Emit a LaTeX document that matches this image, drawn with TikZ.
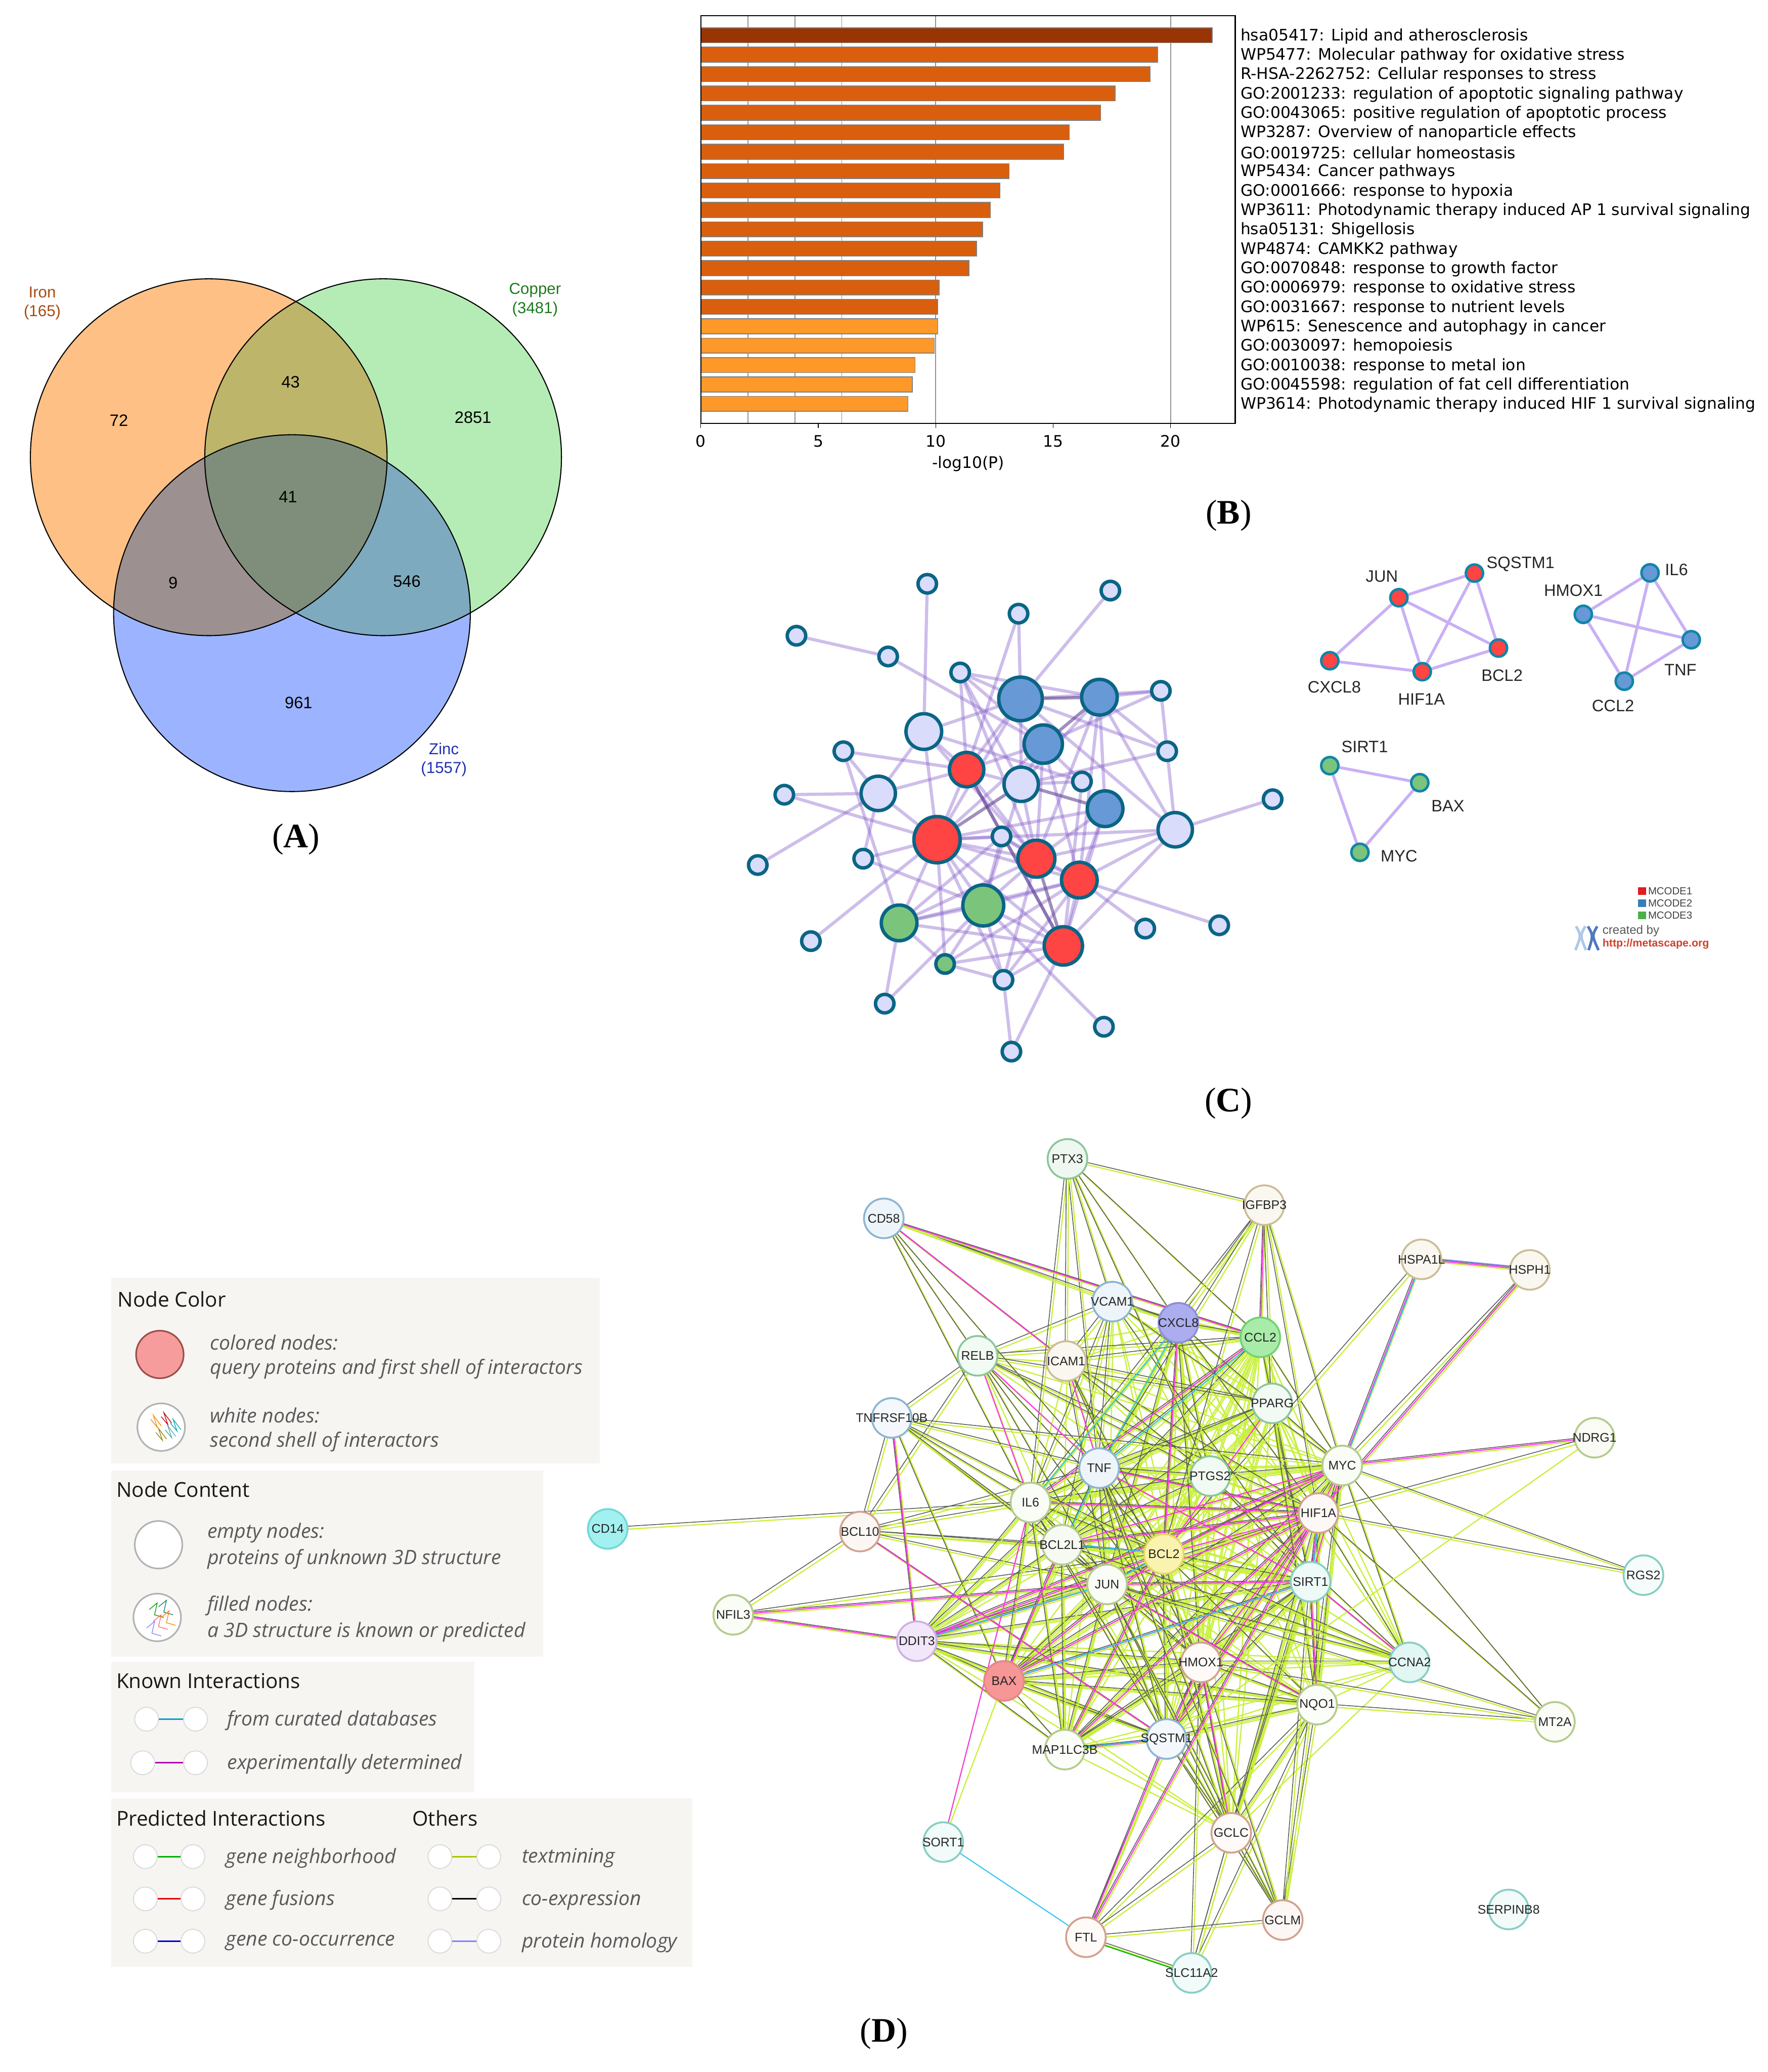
\documentclass[tikz,border=0pt]{standalone}
\usepackage{fontspec}
\setmainfont{Liberation Sans}
\newfontfamily\capfont{Liberation Serif}
\newfontfamily\chartfont{DejaVu Sans}
\newfontfamily\legfont{Open Sans}
\usetikzlibrary{backgrounds}
\newdimen\pxdim
\newcommand{\pxfont}[1]{\pxdim=2.845pt \pxdim=#1\pxdim \fontsize{\pxdim}{1.2\pxdim}\selectfont}
\definecolor{ironfill}{HTML}{FFC085}
\definecolor{copperfill}{HTML}{B5ECB5}
\definecolor{zincfill}{HTML}{9CB4FF}
\definecolor{ironcopper}{HTML}{BDB56A}
\definecolor{ironzinc}{HTML}{9C9090}
\definecolor{copperzinc}{HTML}{7DAABF}
\definecolor{allthree}{HTML}{7F8E7A}
\definecolor{bardark}{HTML}{993404}
\definecolor{barmid}{HTML}{D95F0E}
\definecolor{barlight}{HTML}{FE9929}
\definecolor{cred}{HTML}{FF4444}
\definecolor{cblue}{HTML}{6699D6}
\definecolor{cgreen}{HTML}{7BC47B}
\definecolor{cpale}{HTML}{D9DCFB}
\definecolor{cring}{HTML}{0A6585}
\definecolor{cringb}{HTML}{0F86A8}
\definecolor{cline}{HTML}{8A63CC}
\definecolor{clineb}{HTML}{C9B0F5}
\definecolor{legbox}{HTML}{F6F5F2}
\definecolor{sgreen}{HTML}{8FD3A0}
\definecolor{stan}{HTML}{D8C89A}
\definecolor{sblue}{HTML}{8FBEE0}
\definecolor{steal}{HTML}{8ADCCF}
\definecolor{spurp}{HTML}{D9B8F5}
\definecolor{sbrown}{HTML}{E0A890}
\definecolor{solive}{HTML}{BFD890}
\definecolor{sred}{HTML}{F58A8A}
\definecolor{scyan}{HTML}{70E8E8}
\definecolor{syell}{HTML}{F5E860}
\definecolor{sindigo}{HTML}{8F92EA}
\definecolor{smint}{HTML}{70E070}
\definecolor{tmline}{HTML}{C8F03C}
\definecolor{coline}{HTML}{5A5A5A}
\definecolor{exline}{HTML}{FF33EE}
\definecolor{dbline}{HTML}{33C5F0}
\definecolor{logolight}{HTML}{AFC8E8}
\definecolor{logodark}{HTML}{5078C0}
\definecolor{siteline}{HTML}{D0402C}
\begin{document}
\begin{tikzpicture}[
    x=1mm,
    y=-1mm,
    vennline/.style={black, line width=0.8mm},
    venntxt/.style={font=\pxfont{12.5}, inner sep=0pt},
    panelcap/.style={font=\capfont\pxfont{26}, inner sep=0pt},
    chartbar/.style={draw=gray, line width=0.6mm},
    chartgrid/.style={gray!85, line width=0.7mm},
    charttxt/.style={font=\chartfont\pxfont{12}, inner sep=0pt},
    cedge/.style={draw=cline, draw opacity=0.42, line width=2.4mm},
    cedgeb/.style={draw=cline!70!black, draw opacity=0.6, line width=2.4mm},
    cnode/.style={circle, draw=cring, line width=2.6mm, inner sep=0pt},
    gedge/.style={draw=clineb, line width=2.2mm},
    gnode/.style={circle, draw=cringb, line width=1.9mm, inner sep=0pt, minimum size=13mm},
    gtxt/.style={font=\pxfont{12.5}, inner sep=0pt, text=black!85},
    mcsq/.style={minimum size=6mm, inner sep=0pt},
    mctxt/.style={font=\pxfont{7.8}, inner sep=0pt, anchor=west, text=black!75},
    snode/.style={circle, line width=1.4mm, inner sep=0pt, minimum size=30mm},
    slabel/.style={font=\pxfont{9.5}, inner sep=0pt, text=black!85},
    tmedge/.style={draw=tmline, line width=0.9mm},
    coedge/.style={draw=coline, line width=0.6mm},
    exedge/.style={draw=exline, line width=0.8mm},
    dbedge/.style={draw=dbline, line width=0.8mm},
    legpanel/.style={fill=legbox, draw=none},
    legtitle/.style={font=\legfont\pxfont{15.5}, inner sep=0pt, anchor=west, text=black!90},
    legtxt/.style={font=\legfont\itshape\pxfont{15}, inner sep=0pt, anchor=west, text=black!65},
    legbig/.style={circle, draw=gray!60, fill=white, line width=1.2mm, inner sep=0pt, minimum size=36mm},
    legsmall/.style={circle, draw=gray!30, fill=white, line width=0.7mm, inner sep=0pt, minimum size=18mm},
    leglink/.style={line width=1.1mm}
]

\useasboundingbox (0,0) rectangle (1338,1568);

% =========================================================
% PANEL A
% =========================================================

\def\ironc{(158,346) circle (135)}
\def\copperc{(290,346) circle (135)}
\def\zincc{(221,464) circle (135)}

\fill[ironfill] \ironc;
\fill[copperfill] \copperc;
\fill[zincfill] \zincc;

\begin{scope}
\clip \ironc;
\fill[ironcopper] \copperc;
\fill[ironzinc] \zincc;
\clip \copperc;
\fill[allthree] \zincc;
\end{scope}

\begin{scope}
\clip \copperc;
\clip \zincc;
\fill[copperzinc] (0,0) rectangle (1338,1568);
\clip \ironc;
\fill[allthree] (0,0) rectangle (1338,1568);
\end{scope}

\draw[vennline] \ironc;
\draw[vennline] \copperc;
\draw[vennline] \zincc;

\foreach \nm/\xx/\yy/\txt in {n72/90/318/72, n43/220/289/43, n2851/358/316/2851, n41/218/376/41,
    n9/131/441/9, n546/308/440/546, n961/226/532/961}
    \node[venntxt] (\nm) at (\xx,\yy) {\txt};

\node[font=\pxfont{12}, inner sep=0pt, align=center, text={rgb,255:red,168;green,74;blue,16}] (ironlab) at (32,229.5) {Iron\\(165)};
\node[font=\pxfont{12}, inner sep=0pt, align=center, text={rgb,255:red,30;green,122;blue,30}] (copperlab) at (405,227) {Copper\\(3481)};
\node[font=\pxfont{12}, inner sep=0pt, align=center, text={rgb,255:red,32;green,48;blue,176}] (zinclab) at (336,575) {Zinc\\(1557)};

\node[panelcap] (capA) at (224,635) {(\textbf{A})};

% =========================================================
% PANEL B
% =========================================================

\foreach \t in {2,4,6,10,20}
    \draw[chartgrid] ({530.5+17.78*\t},12) -- ({530.5+17.78*\t},320.4);

\foreach \val/\col/\txt [count=\i from 0] in {
    21.77/bardark/hsa05417: Lipid and atherosclerosis,
    19.44/barmid/WP5477: Molecular pathway for oxidative stress,
    19.12/barmid/R-HSA-2262752: Cellular responses to stress,
    17.64/barmid/GO:2001233: regulation of apoptotic signaling pathway,
    17.02/barmid/GO:0043065: positive regulation of apoptotic process,
    15.69/barmid/WP3287: Overview of nanoparticle effects,
    15.45/barmid/GO:0019725: cellular homeostasis,
    13.13/barmid/WP5434: Cancer pathways,
    12.74/barmid/GO:0001666: response to hypoxia,
    12.33/barmid/WP3611: Photodynamic therapy induced AP 1 survival signaling,
    12.00/barmid/hsa05131: Shigellosis,
    11.74/barmid/WP4874: CAMKK2 pathway,
    11.42/barmid/GO:0070848: response to growth factor,
    10.15/barmid/GO:0006979: response to oxidative stress,
    10.09/barmid/GO:0031667: response to nutrient levels,
    10.09/barlight/WP615: Senescence and autophagy in cancer,
    9.94/barlight/GO:0030097: hemopoiesis,
    9.12/barlight/GO:0010038: response to metal ion,
    9.00/barlight/GO:0045598: regulation of fat cell differentiation,
    8.82/barlight/WP3614: Photodynamic therapy induced HIF 1 survival signaling}
{
    \pgfmathsetmacro\yb{26.7+14.68*\i}
    \draw[chartbar, fill=\col] (530.5,\yb-5.7) rectangle ({530.5+17.78*\val},\yb+5.7);
    \node[charttxt, anchor=west] (path\i) at (939,\yb+0.7) {\txt};
}

\draw[black, line width=0.8mm] (530.5,12) rectangle (935,320.4);

\foreach \t in {0,5,10,15,20} {
    \draw[black, line width=0.5mm] ({530.5+17.78*\t},320.4) -- ++(0,3.5);
    \node[charttxt] (tick\t) at ({530.5+17.78*\t},334) {\t};
}
\node[charttxt] (xlab) at (733,351) {-log10(P)};
\node[panelcap] (capB) at (930,390) {(\textbf{B})};

% =========================================================
% PANEL C
% =========================================================

% foglie
\foreach \nm/\xx/\yy in {a1/701.9/441.8, a2/840.5/446.9, a3/771/464.4, a4/602.9/481.1, a5/672.3/496.8,
    a6/726.8/508.9, a7/878.7/522.8, a8/883.5/568.5, a9/638.4/568.5, a10/819/591.4, a11/593.7/601.4,
    a12/963.3/604.8, a13/758.1/633, a14/653.4/649.8, a15/573.6/654.6, a16/613.8/712.2, a17/866.9/702.7,
    a18/922.9/700.2, a19/759.6/741.5, a20/669.7/759.5, a21/835.6/777, a22/765.6/795.8}
    \node[cnode, fill=cpale, minimum size=14mm] (\nm) at (\xx,\yy) {};

% grandi
\foreach \nm/\xx/\yy/\sz/\col in {b1/772.5/528.9/33/cblue, b2/832.2/527.6/27/cblue, b3/789.7/563.1/29/cblue,
    b4/836.5/612/27/cblue, w1/699.3/553.6/27/cpale, w2/773/593.5/26/cpale, w3/664.8/600.4/26/cpale,
    w4/889.6/627.9/26/cpale, r1/731.7/582.4/26/cred, r2/709.3/635.4/35/cred, r3/784.5/649.8/28/cred,
    r4/817/666/27/cred, r5/804.9/715.8/29/cred, g1/744.3/685.2/31/cgreen, g2/680.6/698.4/27/cgreen,
    g3/715.4/729.5/14/cgreen}
    \node[cnode, fill=\col, minimum size=\sz mm] (\nm) at (\xx,\yy) {};

\begin{pgfonlayer}{background}
\foreach \p/\q in {a1/w1, a2/b1, a3/b1, a3/r1, a4/a5, a5/b3, a6/b1, a6/b2, a6/b3, a6/r1, a6/w2, a6/r3,
    b1/w1, b1/a8, b1/w4, b1/r1, b1/w2, b1/r2, b1/a7, b2/a7, b2/w4, b2/a8, b2/b4, b2/r4, b2/w2, b2/r3,
    b3/a7, b3/w2, b3/r1, b3/a10, b3/r2, b3/r4, b3/r3, w1/r1, w1/r2, w1/r3, w1/w3, w1/a10,
    a9/r1, a9/w3, a9/g2, w3/r1, w3/a11, w3/a15, w3/r2, w3/a14, a11/r2, a7/a8, a8/w4, a8/w2,
    w4/a12, w4/r2, w4/r3, w4/r4, w4/r5, r1/w2, r1/r2, r1/r3, r1/r5, w2/r3, w2/g1, a10/w2, a10/r5,
    b4/r2, b4/r3, b4/r5, b4/r4, r2/a13, r2/r3, r2/r4, r2/r5, r2/g1, r2/g2, r2/a14, r2/g3, r2/a16, r2/a19,
    a13/r3, a13/g1, a13/g2, a13/r4, a14/g1, r3/g1, r3/r4, r3/g2, r3/a19, r4/a17, r4/a18, r4/g1, r4/r5,
    r4/g2, r4/g3, r4/a19, g1/g2, g1/r5, g1/g3, g1/a19, g1/a20, g1/a21, g2/r5, g2/g3, g2/a20,
    r5/g3, r5/a19, r5/a22, g3/a19, a19/a22}
    \draw[cedge] (\p) -- (\q);
\foreach \p/\q in {b1/b2, b2/b3, w2/b4, w2/r2, r3/r5, r1/r5}
    \draw[cedgeb] (\p) -- (\q);
\end{pgfonlayer}

% gruppi MCODE
\foreach \nm/\xx/\yy/\col/\lx/\ly in {
    JUN/1058.9/452.3/cred/1046/436, SQSTM1/1116.1/433.7/cred/1151/427, CXCL8/1006.6/500/cred/1010/520,
    HIF1A/1076.6/508.3/cred/1076/529, BCL2/1134.3/490.4/cred/1137/511, HMOX1/1198.5/464.9/cblue/1191/447,
    IL6/1249/433.5/cblue/1269/431, TNF/1280.2/484.1/cblue/1272/507, CCL2/1229.5/515.5/cblue/1221/534,
    SIRT1/1006.6/579.4/cgreen/1033/565, BAX/1074.7/592.3/cgreen/1096/610, MYC/1029.4/645/cgreen/1059/648}
{
    \node[gnode, fill=\col] (c\nm) at (\xx,\yy) {};
    \node[gtxt] (t\nm) at (\lx,\ly) {\nm};
}

\begin{pgfonlayer}{background}
\foreach \p/\q in {JUN/SQSTM1, JUN/CXCL8, JUN/HIF1A, JUN/BCL2, SQSTM1/HIF1A, SQSTM1/BCL2, CXCL8/HIF1A, HIF1A/BCL2,
    HMOX1/IL6, HMOX1/TNF, HMOX1/CCL2, IL6/TNF, IL6/CCL2, TNF/CCL2, SIRT1/BAX, SIRT1/MYC, BAX/MYC}
    \draw[gedge] (c\p) -- (c\q);
\end{pgfonlayer}

% legenda MCODE
\node[mcsq, fill={rgb,255:red,228;green,26;blue,28}] (mc1) at (1242.9,674.3) {};
\node[mcsq, fill={rgb,255:red,55;green,126;blue,184}] (mc2) at (1242.9,683.5) {};
\node[mcsq, fill={rgb,255:red,77;green,175;blue,74}] (mc3) at (1242.9,692.7) {};
\node[mctxt] (mct1) at (1247.5,674.3) {MCODE1};
\node[mctxt] (mct2) at (1247.5,683.5) {MCODE2};
\node[mctxt] (mct3) at (1247.5,692.7) {MCODE3};
\draw[logolight, line width=2mm] (1193,701) .. controls (1197,708) .. (1192.5,719);
\draw[logolight, line width=2mm] (1200,701) .. controls (1196,708) .. (1200.5,719);
\draw[logodark, line width=2mm] (1202,701) .. controls (1206,708) .. (1202.5,719);
\draw[logodark, line width=2mm] (1209,701) .. controls (1205,708) .. (1210,719);
\node[font=\pxfont{9.2}, inner sep=0pt, text=black!65, anchor=west] (madeby) at (1213,704.6) {created by};
\node[font=\bfseries\pxfont{8.2}, inner sep=0pt, text=siteline, anchor=west] (site) at (1213,714.4) {http://metascape.org};

\node[panelcap] (capC) at (930,835) {(\textbf{C})};

% =========================================================
% PANEL D - RETE
% =========================================================

\foreach \nm/\xx/\yy/\bc/\pc in {
    PTX3/808/877/sgreen/15, IGFBP3/957/912/stan/15, CD58/669/922/sblue/15, HSPA1L/1076/953/stan/15,
    HSPH1/1158/961/stan/15, VCAM1/842/985/sblue/15, CXCL8/892/1001/sindigo/75, CCL2/954/1012/smint/60,
    RELB/740/1026/sgreen/12, ICAM1/807/1030/stan/15, PPARG/963/1062/sgreen/12, TNFRSF10B/675/1073/sblue/10,
    NDRG1/1207/1088/solive/10, MYC/1016/1109/solive/8, TNF/832/1111/sblue/15, PTGS2/916/1117/sgreen/12,
    IL6/780/1137/solive/8, HIF1A/998/1145/sbrown/8, CD14/460/1157/scyan/65, BCL10/651/1159/sbrown/10,
    BCL2L1/804/1169/solive/12, BCL2/881/1176/syell/50, RGS2/1244/1192/steal/8, JUN/838/1199/solive/8,
    SIRT1/992/1197/steal/15, NFIL3/555/1222/solive/8, DDIT3/694/1242/spurp/35, HMOX1/909/1258/sbrown/6,
    CCNA2/1067/1258/steal/25, BAX/760/1272/sred/90, NQO1/997/1290/solive/6, MT2A/1177/1303/solive/8,
    SQSTM1/883/1316/sblue/10, MAP1LC3B/806/1324/solive/6, SORT1/714/1394/steal/12, GCLC/932/1387/sbrown/6,
    GCLM/971/1453/sbrown/10, SERPINB8/1142/1445/steal/10, FTL/822/1466/sbrown/6, SLC11A2/902/1493/steal/12}
    \node[snode, draw=\bc!85!gray, fill=\bc!\pc!white, label={[slabel]center:\nm}] (s\nm) at (\xx,\yy) {};

\def\hubs{TNF,PTGS2,IL6,HIF1A,MYC,BCL2,BCL2L1,JUN,SIRT1,PPARG,CXCL8,CCL2,ICAM1,VCAM1,RELB,HMOX1}
\def\tmhubs{TNF,PTGS2,IL6,HIF1A,MYC,BCL2,BCL2L1,JUN,SIRT1,PPARG,CXCL8,CCL2,HMOX1,NQO1,SQSTM1,CCNA2,DDIT3,BAX,MAP1LC3B,GCLC}

\begin{pgfonlayer}{background}

% nucleo denso
\foreach \p [count=\i] in \tmhubs
    \foreach \q [count=\j] in \tmhubs {
        \ifnum\j>\i
            \draw[tmedge] (s\p) -- (s\q);
        \fi
    }
\foreach \p [count=\i] in \hubs
    \foreach \q [count=\j] in \hubs {
        \ifnum\j>\i
            \draw[tmedge] ([shift={(0.9,1.1)}]s\p.center) -- ([shift={(0.9,1.1)}]s\q.center);
        \fi
    }
\foreach \p [count=\i] in \hubs
    \foreach \q [count=\j] in \hubs {
        \ifnum\j>\i
            \ifodd\numexpr\i+\j\relax
                \draw[coedge] ([shift={(-0.8,-1)}]s\p.center) -- ([shift={(-0.8,-1)}]s\q.center);
            \fi
        \fi
    }

% periferia: textmining e co-expression
\foreach \p/\q in {PTX3/IGFBP3, PTX3/CCL2, PTX3/CXCL8, PTX3/VCAM1, PTX3/TNF, PTX3/IL6, PTX3/ICAM1, PTX3/PTGS2,
    IGFBP3/CXCL8, IGFBP3/CCL2, IGFBP3/MYC, IGFBP3/BCL2, IGFBP3/TNF, IGFBP3/HIF1A, IGFBP3/PPARG, IGFBP3/IL6,
    CD58/VCAM1, CD58/ICAM1, CD58/CXCL8, CD58/TNF, CD58/IL6, CD58/CCL2, CD58/RELB,
    HSPA1L/MYC, HSPA1L/HSPH1, HSPA1L/BCL2, HSPH1/MYC, HSPH1/HIF1A, NDRG1/MYC, NDRG1/HIF1A, RGS2/HIF1A, RGS2/MYC,
    CD14/IL6, BCL10/IL6, BCL10/TNF, BCL10/BCL2L1, BCL10/BCL2, BCL10/JUN, BCL10/RELB, BCL10/SQSTM1, BCL10/TNFRSF10B, NFIL3/BCL10,
    TNFRSF10B/DDIT3, TNFRSF10B/BAX, TNFRSF10B/BCL2, TNFRSF10B/IL6, TNFRSF10B/JUN, TNFRSF10B/TNF, TNFRSF10B/MYC, TNFRSF10B/RELB, TNFRSF10B/BCL2L1,
    NFIL3/JUN, NFIL3/DDIT3, NFIL3/BCL2, DDIT3/JUN, DDIT3/BCL2, DDIT3/BCL2L1, DDIT3/MYC, DDIT3/HIF1A, DDIT3/SIRT1, DDIT3/HMOX1, DDIT3/BAX, DDIT3/MAP1LC3B, DDIT3/SQSTM1, DDIT3/IL6, DDIT3/NQO1, DDIT3/TNF,
    BAX/BCL2, BAX/BCL2L1, BAX/JUN, BAX/SIRT1, BAX/MYC, BAX/HIF1A, BAX/SQSTM1, BAX/HMOX1, BAX/NQO1, BAX/MAP1LC3B, BAX/IL6, BAX/TNF,
    MAP1LC3B/SQSTM1, MAP1LC3B/BCL2, MAP1LC3B/JUN, MAP1LC3B/HIF1A, MAP1LC3B/MYC, MAP1LC3B/SIRT1, MAP1LC3B/HMOX1, MAP1LC3B/BCL2L1, MAP1LC3B/IL6,
    SQSTM1/HMOX1, SQSTM1/JUN, SQSTM1/NQO1, SQSTM1/BCL2, SQSTM1/HIF1A, SQSTM1/MYC, SQSTM1/SIRT1, SQSTM1/GCLC, SQSTM1/FTL, SQSTM1/TNF, SQSTM1/IL6,
    NQO1/HMOX1, NQO1/SIRT1, NQO1/MYC, NQO1/HIF1A, NQO1/GCLC, NQO1/GCLM, NQO1/JUN, NQO1/BCL2, NQO1/PPARG, NQO1/MT2A, NQO1/FTL, NQO1/SLC11A2,
    HMOX1/GCLC, HMOX1/GCLM, HMOX1/FTL, HMOX1/SLC11A2, HMOX1/MT2A,
    GCLC/GCLM, GCLC/FTL, GCLC/JUN, GCLC/BCL2, GCLC/SIRT1, GCLC/HIF1A, GCLC/MYC, GCLC/IL6, GCLC/TNF, GCLC/SLC11A2,
    GCLM/FTL, GCLM/JUN, GCLM/SQSTM1, GCLM/MYC, GCLM/SIRT1, GCLM/TNF, FTL/SLC11A2, FTL/HIF1A, SLC11A2/GCLC,
    CCNA2/MYC, CCNA2/JUN, CCNA2/SIRT1, CCNA2/HIF1A, CCNA2/HMOX1, CCNA2/BCL2, CCNA2/PTGS2, CCNA2/BCL2L1,
    MT2A/MYC, MT2A/HIF1A, MT2A/JUN}
{
    \draw[tmedge] ([shift={(0.9,1.1)}]s\p.center) -- ([shift={(0.9,1.1)}]s\q.center);
    \draw[coedge] ([shift={(-0.8,-1)}]s\p.center) -- ([shift={(-0.8,-1)}]s\q.center);
}

% solo textmining
\foreach \p/\q in {SORT1/BAX, SORT1/IL6, NDRG1/SQSTM1}
    \draw[tmedge] (s\p) -- (s\q);

% sperimentali
\foreach \p/\q in {BCL2/HIF1A, BCL2/MYC, BCL2/JUN, JUN/HIF1A, BCL2L1/MYC, BCL2L1/HIF1A, IL6/HIF1A, TNF/SIRT1, TNF/HIF1A, JUN/SIRT1,
    HIF1A/SIRT1, MYC/SIRT1, MYC/HIF1A, CXCL8/BCL2, CCL2/IL6, RELB/IL6, RELB/TNF, ICAM1/TNF, CCL2/IGFBP3, CD58/CCL2, CD58/ICAM1,
    HSPA1L/MYC, HSPH1/HIF1A, HSPH1/HSPA1L, NDRG1/MYC, NFIL3/JUN, NFIL3/DDIT3, DDIT3/JUN, DDIT3/BCL2, DDIT3/MYC, TNFRSF10B/DDIT3,
    BCL10/SQSTM1, SORT1/IL6, BAX/BCL2, BAX/BCL2L1, BAX/SIRT1, BAX/HIF1A, MAP1LC3B/SQSTM1, MAP1LC3B/BCL2, MAP1LC3B/HIF1A,
    SQSTM1/HMOX1, SQSTM1/HIF1A, SQSTM1/FTL, HMOX1/HIF1A, HMOX1/GCLC, SIRT1/CCNA2, SIRT1/NQO1, NQO1/JUN, FTL/HIF1A, PPARG/BCL2}
    \draw[exedge] (s\p) -- (s\q);

% database
\foreach \p/\q in {CXCL8/IL6, CCL2/TNF, MYC/HSPA1L, BAX/SIRT1, DDIT3/JUN, MAP1LC3B/SQSTM1, BCL2/JUN, BCL2L1/BCL2, TNF/BCL2L1, CXCL8/TNF, HIF1A/SIRT1}
    \draw[dbedge] ([shift={(0.9,-0.5)}]s\p.center) -- ([shift={(0.9,-0.5)}]s\q.center);

% altre
\draw[dbedge] (sSORT1) -- (sFTL);
\draw[draw=green!70!black, line width=0.8mm] ([shift={(0,1.4)}]sFTL.center) -- ([shift={(0,1.4)}]sSLC11A2.center);
\draw[draw=blue!45!white, line width=0.8mm] ([shift={(0,-1.5)}]sHSPA1L.center) -- ([shift={(0,-1.5)}]sHSPH1.center);

\end{pgfonlayer}

% =========================================================
% PANEL D - LEGENDA
% =========================================================

\fill[legpanel] (84.2,967) rectangle (454,1107.3);
\fill[legpanel] (84.2,1112.8) rectangle (411,1253.6);
\fill[legpanel] (84.2,1257.4) rectangle (359,1356.3);
\fill[legpanel] (84.2,1361) rectangle (524.2,1488.5);

\foreach \nm/\xx/\yy/\txt in {tcolor/89/983/Node Color, tcontent/88/1127/Node Content, tknown/88/1272/Known Interactions,
    tpred/88/1376/Predicted Interactions, tother/312/1376/Others}
    \node[legtitle] (\nm) at (\xx,\yy) {\txt};

\foreach \nm/\xx/\yy/\txt in {
    la/159/1016/colored nodes:, lb/159/1036/query proteins and first shell of interactors,
    lc/159/1071/white nodes:, ld/159/1091/second shell of interactors,
    le/157/1160/empty nodes:, lf/157/1180/proteins of unknown 3D structure,
    lg/157/1215/filled nodes:, lh/157/1235/a 3D structure is known or predicted,
    li/172/1302/from curated databases, lj/172/1335/experimentally determined,
    lk/171/1406/gene neighborhood, ll/171/1438/gene fusions, lm/171/1470/gene co-occurrence,
    ln/395/1406/textmining, lo/395/1438/co-expression, lp/395/1470/protein homology}
    \node[legtxt] (\nm) at (\xx,\yy) {\txt};

\node[legbig, fill=sred!85!white, draw=red!45!black!70, line width=1.2mm] (bigred) at (121,1025) {};
\node[legbig] (bigwhite) at (122,1080) {};
\node[legbig] (bigempty) at (120,1169) {};
\node[legbig] (bigfilled) at (119,1224) {};

% strutture 3D
\foreach \dx/\dy/\col in {-8/-6/orange, -4/4/olive, 0/-8/red!70!black, 3/2/teal!70, 7/-3/cyan!60!green}
    \draw[\col, line width=0.5mm] ({122+\dx},{1080+\dy}) -- ++(5,6) -- ++(-3,-9) -- ++(6,8);
\foreach \dx/\dy/\col in {-6/-6/green!60!black, -3/3/red!60, 1/-8/teal, 3/0/orange, -8/8/blue!50}
    \draw[\col, line width=0.5mm] ({119+\dx},{1224+\dy}) -- ++(6,-5) -- ++(-2,9) -- ++(7,2);

\foreach \nm/\xa/\xb/\yy/\col in {
    curated/111/148/1301/{rgb,255:red,12;green,159;blue,196},
    expdet/108/148/1334/{rgb,255:red,176;green,0;blue,176},
    neigh/110/146/1405/{rgb,255:red,0;green,176;blue,0},
    fusion/110/146/1437/{rgb,255:red,230;green,0;blue,0},
    cooc/110/146/1469/{rgb,255:red,0;green,0;blue,224},
    tmine/333/370/1405/{rgb,255:red,165;green,200;blue,0},
    coexp/333/370/1437/black,
    homol/333/370/1469/{rgb,255:red,128;green,128;blue,255}}
{
    \node[legsmall] (\nm L) at (\xa,\yy) {};
    \node[legsmall] (\nm R) at (\xb,\yy) {};
    \draw[leglink, draw=\col] (\nm L) -- (\nm R);
}

\node[panelcap] (capD) at (669,1539) {(\textbf{D})};

\end{tikzpicture}
\end{document}
